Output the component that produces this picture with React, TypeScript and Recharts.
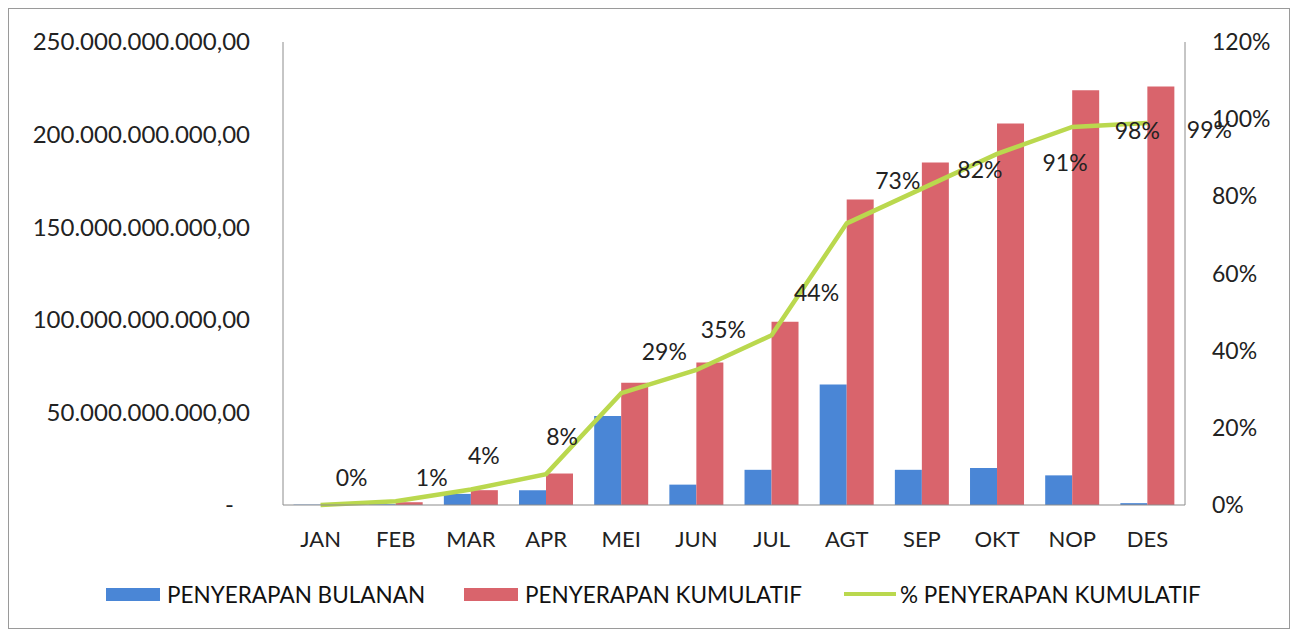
import { ComposedChart, Bar, Line, XAxis, YAxis, Legend, LabelList } from 'recharts'

// nilai dalam miliar rupiah
const bulan = ['JAN', 'FEB', 'MAR', 'APR', 'MEI', 'JUN', 'JUL', 'AGT', 'SEP', 'OKT', 'NOP', 'DES']
const penyerapanBulanan = [0.2, 0.4, 6, 8, 48, 11, 19, 65, 19, 20, 16, 1]
const penyerapanKumulatif = [0.3, 1.5, 8, 17, 66, 77, 99, 165, 185, 206, 224, 226]
const persenKumulatif = [0, 1, 4, 8, 29, 35, 44, 73, 82, 91, 98, 99]
const ticksKiri = [0, 50e9, 100e9, 150e9, 200e9, 250e9]
const ticksKanan = [0, 20, 40, 60, 80, 100, 120]

// geser label persen (dx, dy) seperti di gambar asli
const geserLabel = [
  [31, -27], [36, -23], [13, -34], [16, -37], [43, -41], [27, -40],
  [45, -42], [51, -42], [58, -19], [68, 9], [65, 4], [62, 7],
]

const data = bulan.map((b, i) => ({
  bulan: b,
  bulanan: penyerapanBulanan[i] * 1e9,
  kumulatif: penyerapanKumulatif[i] * 1e9,
  persen: persenKumulatif[i],
}))

const FONT = 'Lato, "Open Sans", sans-serif'
const BIRU = '#4A86D6'
const MERAH = '#D9646C'
const HIJAU = '#BAD84E'

function rupiah(v: number) {
  if (v === 0) return '-'
  const s = Math.round(v).toString().replace(/\B(?=(\d{3})+(?!\d))/g, '.')
  return s + ',00'
}

function TickKiri(props: any) {
  const { x, y, payload } = props
  const v = payload.value
  return (
    <text x={v === 0 ? x - 16 : x} y={y} dy="0.35em" textAnchor="end" fontSize={24} fontFamily={FONT} fill="#222">
      {rupiah(v)}
    </text>
  )
}

function LabelPersen(props: any) {
  const { x, y, value, index } = props
  const [dx, dy] = geserLabel[index] || [30, -30]
  return (
    <text x={x + dx} y={y + dy} dy="0.35em" textAnchor="middle" fontSize={23} fontFamily={FONT} fill="#222">
      {value}%
    </text>
  )
}

function Keterangan() {
  const teks = { position: 'absolute' as const, top: 23, fontSize: 22.5, fontFamily: FONT, color: '#111', whiteSpace: 'nowrap' as const }
  return (
    <div style={{ position: 'relative', width: 1280, height: 70 }}>
      <div style={{ position: 'absolute', left: 97, top: 30, width: 54, height: 13, background: BIRU }} />
      <div style={{ ...teks, left: 158 }}>PENYERAPAN BULANAN</div>
      <div style={{ position: 'absolute', left: 455, top: 30, width: 54, height: 13, background: MERAH }} />
      <div style={{ ...teks, left: 516 }}>PENYERAPAN KUMULATIF</div>
      <div style={{ position: 'absolute', left: 835, top: 34, width: 52, height: 4, background: HIJAU }} />
      <div style={{ ...teks, left: 891 }}>% PENYERAPAN KUMULATIF</div>
    </div>
  )
}

export default function App() {
  return (
    <div style={{ width: 1280, height: 619, border: '1px solid #9a9a9a', background: '#fff' }}>
      <ComposedChart
        width={1280}
        height={619}
        data={data}
        margin={{ top: 33, right: 0, bottom: 0, left: 0 }}
        barGap={0}
        barCategoryGap="14%"
      >
        <XAxis
          dataKey="bulan"
          height={53}
          tickLine={false}
          tickSize={0}
          tickMargin={26}
          axisLine={{ stroke: '#8c8c8c' }}
          tick={{ fontSize: 22, fontFamily: FONT, fill: '#222' }}
        />
        <YAxis
          yAxisId="rp"
          width={274}
          domain={[0, 250e9]}
          ticks={ticksKiri}
          tickLine={false}
          tickSize={0}
          tickMargin={33}
          axisLine={{ stroke: '#8c8c8c' }}
          tick={<TickKiri />}
        />
        <YAxis
          yAxisId="pct"
          orientation="right"
          width={104}
          domain={[0, 120]}
          ticks={ticksKanan}
          tickLine={false}
          tickSize={0}
          tickMargin={27}
          axisLine={{ stroke: '#8c8c8c' }}
          tickFormatter={(v: number) => v + '%'}
          tick={{ fontSize: 23, fontFamily: FONT, fill: '#222' }}
        />
        <Bar yAxisId="rp" dataKey="bulanan" fill={BIRU} isAnimationActive={false} />
        <Bar yAxisId="rp" dataKey="kumulatif" fill={MERAH} isAnimationActive={false} />
        <Line
          yAxisId="pct"
          type="linear"
          dataKey="persen"
          stroke={HIJAU}
          strokeWidth={4.5}
          dot={false}
          isAnimationActive={false}
        >
          <LabelList dataKey="persen" content={<LabelPersen />} />
        </Line>
        <Legend verticalAlign="bottom" height={70} content={() => <Keterangan />} />
      </ComposedChart>
    </div>
  )
}
